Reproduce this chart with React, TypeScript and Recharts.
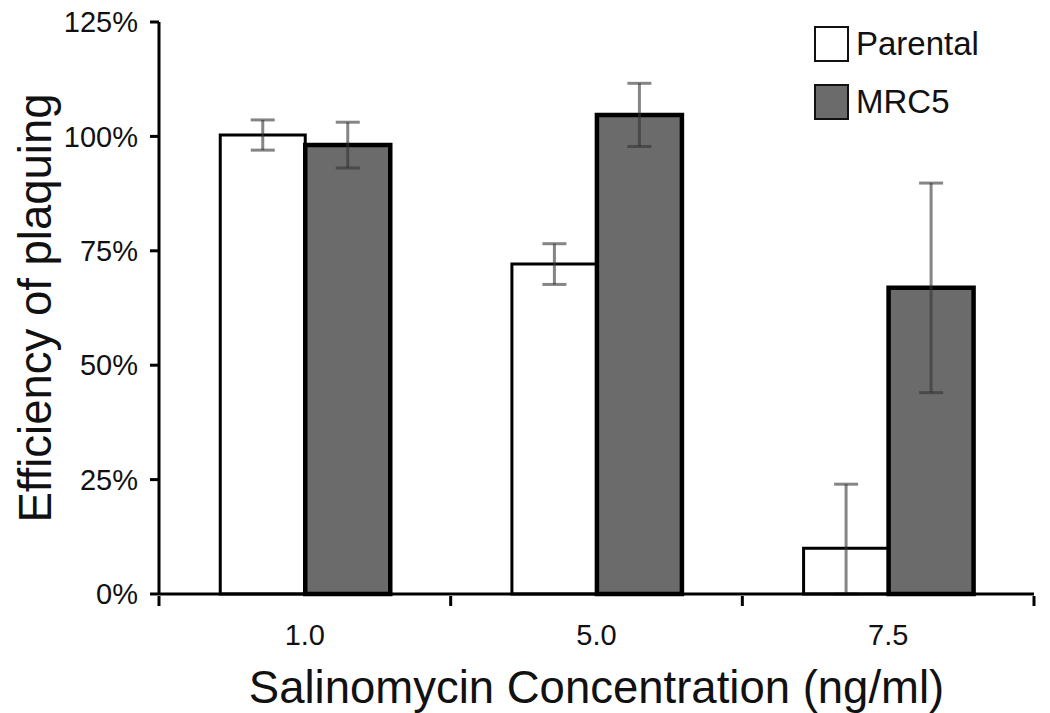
import React from 'react';
import { BarChart, Bar, XAxis, YAxis, ErrorBar, Legend } from 'recharts';

// values (percent)
const categories = ['1.0', '5.0', '7.5'];
const parental = [100.3, 72.1, 10.0];
const parentalErr = [3.3, 4.45, 14.0];
const mrc5 = [98.1, 104.7, 66.9];
const mrc5Err = [5.0, 6.9, 22.9];
const yTicks = [0, 25, 50, 75, 100, 125];

const FONT = '"Liberation Sans", Arial, Helvetica, sans-serif';
const W = 1050;
const H = 713;
const MARGIN = { top: 22, right: 16, bottom: 0, left: 0 };
const Y_AXIS_W = 159;
const X_AXIS_H = 119;
const BAND = (W - MARGIN.left - MARGIN.right - Y_AXIS_W) / categories.length;

// error bars are clipped at the axis, as in the original
const data = categories.map((c, i) => ({
  name: c,
  parental: parental[i],
  parentalErr: [Math.min(parentalErr[i], parental[i]), parentalErr[i]],
  mrc5: mrc5[i],
  mrc5Err: [Math.min(mrc5Err[i], mrc5[i]), mrc5Err[i]],
}));

const series = [
  { key: 'parental', name: 'Parental', fill: '#ffffff', stroke: 3 },
  { key: 'mrc5', name: 'MRC5', fill: '#6b6b6b', stroke: 4.5 },
];

const XTick = (props: any) => {
  const { x, y, payload, index } = props;
  const last = index === categories.length - 1;
  return (
    <g>
      <line x1={x - BAND / 2} x2={x - BAND / 2} y1={y} y2={y + 10} stroke="#000" strokeWidth={3} />
      {last && <line x1={x + BAND / 2} x2={x + BAND / 2} y1={y} y2={y + 10} stroke="#000" strokeWidth={3} />}
      <text x={x} y={y + 49} textAnchor="middle" fontSize={29} fontFamily={FONT} fill="#111">
        {payload.value}
      </text>
    </g>
  );
};

const XTitle = (props: any) => {
  const { viewBox } = props;
  return (
    <text x={viewBox.x + viewBox.width / 2} y={viewBox.y + 109} textAnchor="middle" fontSize={45.5} fontFamily={FONT} fill="#111">
      Salinomycin Concentration (ng/ml)
    </text>
  );
};

const YTitle = (props: any) => {
  const { viewBox } = props;
  const cx = 35;
  const cy = viewBox.y + viewBox.height / 2;
  return (
    <text x={cx} y={cy} transform={`rotate(-90 ${cx} ${cy})`} textAnchor="middle" dominantBaseline="central" fontSize={45.5} fontFamily={FONT} fill="#111">
      Efficiency of plaquing
    </text>
  );
};

const LegendContent = () => (
  <div style={{ display: 'flex', flexDirection: 'column', gap: 22, fontFamily: FONT }}>
    {series.map((s) => (
      <div key={s.key} style={{ display: 'flex', alignItems: 'center', height: 36 }}>
        <div style={{ width: 31, height: 32, border: '2.5px solid #111', background: s.fill, boxSizing: 'content-box' }} />
        <span style={{ marginLeft: 7, fontSize: 33, color: '#111' }}>{s.name}</span>
      </div>
    ))}
  </div>
);

export default function App() {
  return (
    <div style={{ position: 'absolute', left: 0, top: 0, width: W, height: H, background: '#fff' }}>
      <BarChart width={W} height={H} data={data} margin={MARGIN} barCategoryGap="21%" barGap={0}>
        <XAxis
          dataKey="name"
          height={X_AXIS_H}
          axisLine={{ stroke: '#000', strokeWidth: 3 }}
          tickLine={false}
          tickSize={0}
          tick={<XTick />}
          interval={0}
          label={<XTitle />}
        />
        <YAxis
          width={Y_AXIS_W}
          domain={[0, 125]}
          ticks={yTicks}
          tickFormatter={(v: number) => `${v}%`}
          axisLine={{ stroke: '#000', strokeWidth: 3 }}
          tickLine={{ stroke: '#000', strokeWidth: 3 }}
          tickSize={9}
          tickMargin={12}
          tick={{ fontSize: 29, fontFamily: FONT, fill: '#111' }}
          label={<YTitle />}
        />
        <Legend
          layout="vertical"
          align="center"
          verticalAlign="middle"
          content={<LegendContent />}
          wrapperStyle={{ left: 814, top: 26, width: 220, height: 'auto' }}
        />
        {series.map((s) => (
          <Bar key={s.key} dataKey={s.key} name={s.name} fill={s.fill} stroke="#000" strokeWidth={s.stroke} isAnimationActive={false}>
            <ErrorBar dataKey={`${s.key}Err`} direction="y" width={12} stroke="#333" strokeOpacity={0.6} strokeWidth={3} />
          </Bar>
        ))}
      </BarChart>
    </div>
  );
}
